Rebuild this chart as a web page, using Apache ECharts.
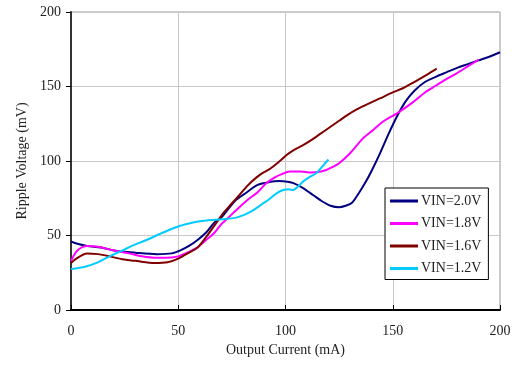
<!DOCTYPE html>
<html>
<head>
<meta charset="utf-8">
<script src="https://cdn.jsdelivr.net/npm/echarts@6/dist/echarts.min.js"></script>
<style>html,body{margin:0;padding:0;background:#fff}#c{width:516px;height:368px}</style>
</head>
<body>
<div id="c"></div>
<script>
const seriesNames = ['VIN=2.0V', 'VIN=1.8V', 'VIN=1.6V', 'VIN=1.2V'];
const xTicks = [0, 50, 100, 150, 200];
const yTicks = [0, 50, 100, 150, 200];

const x20 = [0, 3, 7.5, 14, 20, 30, 40, 47, 51, 55, 59, 63, 67, 70, 74, 77, 82, 87, 93, 97, 101, 104, 108, 113, 117, 121, 125, 128, 131, 134, 137, 140, 144, 148, 152, 156, 160, 165, 170, 175, 180, 185, 190, 195, 200];
const y20 = [46, 44.5, 43, 42, 40, 38.5, 37.5, 38, 40, 43, 47, 52, 59, 62, 69, 74, 79, 84, 86, 86.5, 86, 85, 82, 77, 73, 70, 69, 70, 72, 78, 85, 93, 105, 118, 130, 140, 147, 153, 156.5, 159.5, 162.5, 165, 167.5, 170, 173];

const x18 = [0, 3, 7.5, 12.5, 20, 27, 33, 40, 44, 50, 55, 59, 63, 67, 70, 73, 77, 82, 87, 91, 95, 98, 102, 107, 112, 116, 119, 122, 125, 130, 136, 141, 146, 152, 159, 165, 170, 175, 180, 185, 190];
const y18 = [33, 40, 43, 42.5, 40, 38, 36, 35, 35, 36, 39, 42, 47, 52, 57.5, 61.5, 67, 73.5, 79, 85, 89, 91, 93, 93, 92.3, 92.8, 94, 96, 98.5, 105, 115, 121, 127, 132, 139, 146, 150.5, 155, 159, 163.5, 168];

const x16 = [0, 2, 7.5, 12.5, 18, 24, 30, 39, 45, 50, 55, 59, 63, 67, 71, 74, 77.5, 82, 86.5, 90, 93, 97, 100.5, 104, 108, 112, 116, 120, 125, 129, 133, 138, 144, 150, 155, 160, 166, 170.5];
const y16 = [31.5, 34, 38, 37.5, 36, 34, 33, 31.5, 32, 34.5, 38.5, 42, 49, 57, 65, 70, 75.5, 83, 89, 92.5, 95, 99.5, 104, 107.5, 110.5, 114, 118, 122, 127, 131, 134.5, 138, 142, 146, 149, 153, 158, 162];

const x12 = [0, 6.5, 12.5, 18, 24, 30, 36, 43, 50, 55, 60, 67, 72, 77, 81, 85, 89, 93, 96, 99, 101.5, 103.5, 106, 108, 111, 114.5, 117, 120];
const y12 = [27.5, 29, 32, 36, 40, 44, 47.5, 52, 56, 58, 59.5, 60.5, 61, 62, 64, 67, 71, 75, 78.5, 80.5, 81, 80.5, 83, 86, 89, 92, 96, 101];

const colors = ['#000080', '#FF00FF', '#800000', '#00CCFF'];
const xs = [x20, x18, x16, x12];
const ys = [y20, y18, y16, y12];

const font = '"Liberation Serif", "Times New Roman", serif';
const chart = echarts.init(document.getElementById('c'), null, {renderer: 'canvas'});
chart.setOption({
  animation: false,
  backgroundColor: '#fff',
  textStyle: {fontFamily: font},
  grid: {left: 71, right: 16, top: 12, bottom: 58, show: true, borderColor: '#999', borderWidth: 1},
  xAxis: {
    type: 'value', min: xTicks[0], max: xTicks[xTicks.length - 1], interval: 50,
    name: 'Output Current (mA)', nameLocation: 'middle', nameGap: 31,
    nameTextStyle: {fontFamily: font, fontSize: 14, color: '#222'},
    axisLine: {show: true, lineStyle: {color: '#000', width: 2}},
    axisTick: {show: true, inside: true, length: 5, lineStyle: {color: '#000'}},
    axisLabel: {fontFamily: font, fontSize: 14, color: '#222', margin: 14},
    splitLine: {show: true, lineStyle: {color: '#c8c8c8', width: 1}}
  },
  yAxis: {
    type: 'value', min: yTicks[0], max: yTicks[yTicks.length - 1], interval: 50,
    name: 'Ripple Voltage (mV)', nameLocation: 'middle', nameGap: 42,
    nameTextStyle: {fontFamily: font, fontSize: 14, color: '#222'},
    axisLine: {show: true, lineStyle: {color: '#333', width: 2}},
    axisTick: {show: true, inside: false, length: 5, lineStyle: {color: '#000'}},
    axisLabel: {fontFamily: font, fontSize: 14, color: '#222', margin: 10},
    splitLine: {show: true, lineStyle: {color: '#c8c8c8', width: 1}}
  },
  legend: {
    orient: 'vertical', left: 385, top: 188,
    padding: [6, 7, 4, 5],
    icon: 'rect',
    itemWidth: 28, itemHeight: 3, itemGap: 8.5,
    backgroundColor: '#fff', borderColor: '#000', borderWidth: 1, borderRadius: 0,
    textStyle: {fontFamily: font, fontSize: 14, color: '#222', lineHeight: 14, padding: [0, 0, 0, -2]},
    data: seriesNames
  },
  series: seriesNames.map((n, i) => ({
    name: n, type: 'line', smooth: 0.3, symbol: 'none',
    lineStyle: {color: colors[i], width: 2},
    itemStyle: {color: colors[i]},
    data: xs[i].map((x, j) => [x, ys[i][j]])
  }))
});
</script>
</body>
</html>
